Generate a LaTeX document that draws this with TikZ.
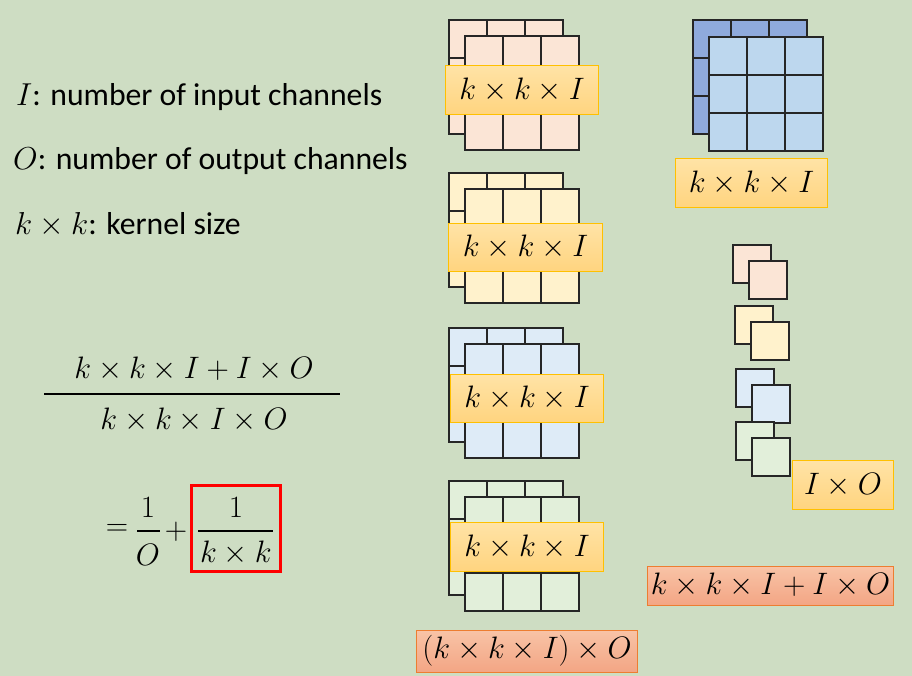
\RequirePackage{fix-cm}
\documentclass[tikz,border=0pt]{standalone}
\usepackage{fontspec}
\setmainfont{Carlito}
\definecolor{bgc}{HTML}{CEDDC3}
\definecolor{cpink}{HTML}{FBE5D6}
\definecolor{cyel}{HTML}{FFF2CC}
\definecolor{cblue}{HTML}{DEEBF7}
\definecolor{cgreen}{HTML}{E2EFDA}
\definecolor{dblue}{HTML}{8FAADC}
\definecolor{mblue}{HTML}{BDD7EE}
\definecolor{ltop}{HTML}{FFE3A6}
\definecolor{lbot}{HTML}{FFD47F}
\definecolor{lborder}{HTML}{FFC000}
\definecolor{otop}{HTML}{F8C3A6}
\definecolor{obot}{HTML}{F3A584}
\definecolor{oborder}{HTML}{ED7D31}
\definecolor{gline}{HTML}{262626}
\newcommand\kgrid[3]{%
  \filldraw[gridline,fill=#3] (#1,#2) rectangle ++(114,114);
  \draw[gridline] (#1+38,#2) -- ++(0,114) (#1+76,#2) -- ++(0,114)
     (#1,#2+38) -- ++(114,0) (#1,#2+76) -- ++(114,0);}
\newcommand\ksq[3]{\filldraw[gridline,fill=#3] (#1,#2) rectangle ++(38,38);}
\begin{document}
\begin{tikzpicture}[x=1pt,y=-1pt,
  gridline/.style={draw=gline,line width=1.4pt},
  ylabel/.style={draw=lborder,line width=1pt,top color=ltop,bottom color=lbot,inner sep=0pt,anchor=north west},
  olabel/.style={draw=oborder,line width=1pt,top color=otop,bottom color=obot,inner sep=0pt,anchor=north west},
  bigtxt/.style={font=\fontsize{31}{37}\selectfont,inner sep=0pt},
  lefttxt/.style={font=\fontsize{31.7}{38}\selectfont,inner sep=0pt,anchor=base west}]
\fill[bgc] (0,0) rectangle (912,676);
\useasboundingbox (0,0) rectangle (912,676);
% left text
\node[lefttxt] (tI) at (16,106) {$I$: number of input channels};
\node[lefttxt] (tO) at (13,170) {$O$: number of output channels};
\node[lefttxt] (tk) at (15,235) {$k\times k$: kernel size};
% big fraction
\node[bigtxt] (num) at (194,369) {$k\times k\times I+I\times O$};
\draw[line width=2.2pt] (44,394) coordinate (fl) -- (340,394) coordinate (fr);
\node[bigtxt] (den) at (194,420) {$k\times k\times I\times O$};
\node[bigtxt,anchor=center] (eq) at (117,530) {$=$};
\node[bigtxt] (f1n) at (148,508) {$1$};
\draw[line width=2.4pt] (137,531) -- (160,531);
\node[bigtxt] (f1d) at (148,555) {$O$};
\node[bigtxt] (plus) at (176,532) {$+$};
\node[bigtxt] (f2n) at (236,508) {$1$};
\draw[line width=1.2pt] (198,531) -- (273,531);
\node[bigtxt] (f2d) at (236,553) {$k\times k$};
\draw[red,line width=3pt] (191,485) rectangle (280,571);
% kernel stacks
\kgrid{449}{20}{cpink}\kgrid{465}{36}{cpink}
\kgrid{449}{173}{cyel}\kgrid{465}{189}{cyel}
\kgrid{449}{328}{cblue}\kgrid{465}{344}{cblue}
\kgrid{449}{481}{cgreen}\kgrid{465}{497}{cgreen}
\node[ylabel,minimum width=153pt,minimum height=49pt] (l1) at (445,65) {};
\node[bigtxt] at (l1.center) {$k\times k\times I$};
\node[ylabel,minimum width=154pt,minimum height=48pt] (l2) at (448,223) {};
\node[bigtxt] at (l2.center) {$k\times k\times I$};
\node[ylabel,minimum width=153pt,minimum height=48pt] (l3) at (450,374) {};
\node[bigtxt] at (l3.center) {$k\times k\times I$};
\node[ylabel,minimum width=153pt,minimum height=49pt] (l4) at (450,522) {};
\node[bigtxt] at (l4.center) {$k\times k\times I$};
% right big kernel
\kgrid{693}{20}{dblue}\kgrid{709}{37}{mblue}
\node[ylabel,minimum width=152pt,minimum height=49pt] (l5) at (675,158) {};
\node[bigtxt] at (l5.center) {$k\times k\times I$};
% 1x1 kernels
\ksq{733}{245}{cpink}\ksq{749}{261}{cpink}
\ksq{735}{306}{cyel}\ksq{751}{322}{cyel}
\ksq{736}{369}{cblue}\ksq{752}{385}{cblue}
\ksq{736}{422}{cgreen}\ksq{752}{438}{cgreen}
\node[ylabel,minimum width=101pt,minimum height=49pt] (l6) at (792,460) {};
\node[bigtxt] at (l6.center) {$I\times O$};
\node[olabel,minimum width=246pt,minimum height=39pt] (l7) at (647,566) {};
\node[bigtxt] at ([yshift=1pt]l7.center) {$k\times k\times I+I\times O$};
\node[olabel,minimum width=221pt,minimum height=42pt] (l8) at (416,630) {};
\node[bigtxt] at ([yshift=1pt]l8.center) {$(k\times k\times I)\times O$};
\end{tikzpicture}
\end{document}
